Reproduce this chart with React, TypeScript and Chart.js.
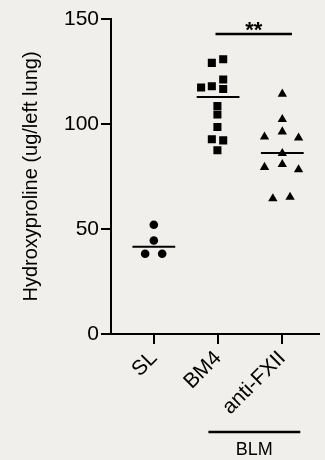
import React, { useEffect, useRef } from 'react';
import { Chart, registerables } from 'chart.js';

Chart.register(...registerables);

const categories = ['SL', 'BM4', 'anti-FXII'];
const yTicks = [0, 50, 100, 150];

const slValues = [52.0, 44.5, 38.2, 38.2];
const slJitter = [0, 0, -0.135, 0.13];

const bm4Values = [129.1, 130.8, 117.4, 118.0, 121.2, 116.7, 108.6, 104.5, 98.6, 92.7, 92.2, 87.5];
const bm4Jitter = [-0.097, 0.08, -0.264, -0.097, 0.08, 0.08, -0.01, -0.01, -0.01, -0.097, 0.08, -0.01];

const antiValues = [114.3, 102.2, 96.3, 93.9, 93.4, 86.0, 79.4, 80.8, 78.3, 64.5, 65.2];
const antiJitter = [0, 0, 0, -0.277, 0.253, 0, -0.277, 0, 0.253, -0.147, 0.121];

const medians = [41.5, 112.9, 86.2];

const sigLabel = '**';
const sigRange = [1.96, 3.15];
const sigLevel = 142.8;

const groupLabel = 'BLM';
const groupRange = [1.85, 3.28];

const FONT = "'Liberation Sans', Arial, Helvetica, sans-serif";

export default function App() {
  const ref = useRef<HTMLCanvasElement>(null);

  useEffect(() => {
    const canvas = ref.current;
    if (!canvas) return;
    const toPts = (vals: number[], jit: number[], c: number) =>
      vals.map((v, i) => ({ x: c + jit[i], y: v }));

    const half = 0.333;
    const medianSets = medians.map((m, i) => ({
      data: [
        { x: i + 1 - half, y: m },
        { x: i + 1 + half, y: m },
      ],
      showLine: true,
      borderColor: '#000',
      borderWidth: 2,
      pointRadius: 0,
      order: 2,
    }));

    const sigSet = {
      data: [
        { x: sigRange[0], y: sigLevel },
        { x: sigRange[1], y: sigLevel },
      ],
      showLine: true,
      borderColor: '#000',
      borderWidth: 2.5,
      pointRadius: 0,
      clip: false as any,
    };

    const annot = {
      id: 'annot',
      afterDraw(chart: any) {
        const { ctx } = chart;
        const xs = chart.scales.x;
        const ys = chart.scales.y;
        ctx.save();
        ctx.fillStyle = '#000';
        ctx.strokeStyle = '#000';
        // significance stars
        ctx.font = `bold 22px ${FONT}`;
        ctx.textAlign = 'center';
        ctx.textBaseline = 'alphabetic';
        const sx = xs.getPixelForValue((sigRange[0] + sigRange[1]) / 2);
        const sy = ys.getPixelForValue(sigLevel);
        ctx.fillText(sigLabel, sx, sy + 3);
        // group bar
        const gy = chart.chartArea.bottom + 98;
        ctx.lineWidth = 2.5;
        ctx.beginPath();
        ctx.moveTo(xs.getPixelForValue(groupRange[0]), gy);
        ctx.lineTo(xs.getPixelForValue(groupRange[1]), gy);
        ctx.stroke();
        ctx.font = `18px ${FONT}`;
        ctx.textBaseline = 'middle';
        ctx.fillText(groupLabel, xs.getPixelForValue((groupRange[0] + groupRange[1]) / 2), gy + 18);
        ctx.restore();
      },
    };

    const chart = new Chart(canvas, {
      type: 'scatter',
      data: {
        datasets: [
          {
            data: toPts(slValues, slJitter, 1),
            pointStyle: 'circle',
            pointRadius: 4.3,
            backgroundColor: '#000',
            borderColor: '#000',
            borderWidth: 0,
            order: 1,
          },
          {
            data: toPts(bm4Values, bm4Jitter, 2),
            pointStyle: 'rect',
            pointRadius: 5.7,
            backgroundColor: '#000',
            borderColor: '#000',
            borderWidth: 0,
            order: 1,
          },
          {
            data: toPts(antiValues, antiJitter, 3),
            pointStyle: 'triangle',
            pointRadius: 5.4,
            backgroundColor: '#000',
            borderColor: '#000',
            borderWidth: 0,
            order: 1,
          },
          ...medianSets,
          sigSet,
        ] as any,
      },
      options: {
        responsive: false,
        animation: false,
        devicePixelRatio: 1,
        layout: { padding: { top: 19, left: 0, right: 0, bottom: 0 } },
        plugins: {
          legend: { display: false },
          tooltip: { enabled: false },
        },
        scales: {
          x: {
            type: 'linear',
            min: 0.3333,
            max: 3.576,
            afterBuildTicks: (s: any) => {
              s.ticks = categories.map((_, i) => ({ value: i + 1 }));
            },
            afterFit: (s: any) => {
              s.height = 126;
            },
            ticks: {
              autoSkip: false,
              minRotation: 45,
              maxRotation: 45,
              padding: 2,
              color: '#000',
              font: { family: FONT, size: 21 },
              callback: (v: any) => categories[Number(v) - 1] ?? '',
            },
            grid: {
              drawOnChartArea: false,
              drawTicks: true,
              tickLength: 10,
              color: '#000',
              lineWidth: 2,
            },
            border: { display: true, color: '#000', width: 2 },
          },
          y: {
            type: 'linear',
            min: 0,
            max: 150,
            afterBuildTicks: (s: any) => {
              s.ticks = yTicks.map((v) => ({ value: v }));
            },
            afterFit: (s: any) => {
              s.width = 111;
            },
            ticks: {
              padding: 2,
              color: '#000',
              font: { family: FONT, size: 21 },
            },
            grid: {
              drawOnChartArea: false,
              drawTicks: true,
              tickLength: 10,
              color: '#000',
              lineWidth: 2,
            },
            border: { display: true, color: '#000', width: 2 },
            title: {
              display: true,
              text: 'Hydroxyproline (ug/left lung)',
              color: '#000',
              font: { family: FONT, size: 20 },
              padding: { top: 19, bottom: 0 },
            },
          },
        },
      },
      plugins: [annot],
    });
    return () => chart.destroy();
  }, []);

  return (
    <div
      style={{
        position: 'fixed',
        left: 0,
        top: 0,
        width: 325,
        height: 460,
        background: '#f0efeb',
      }}
    >
      <canvas ref={ref} width={325} height={460} style={{ display: 'block' }} />
    </div>
  );
}
